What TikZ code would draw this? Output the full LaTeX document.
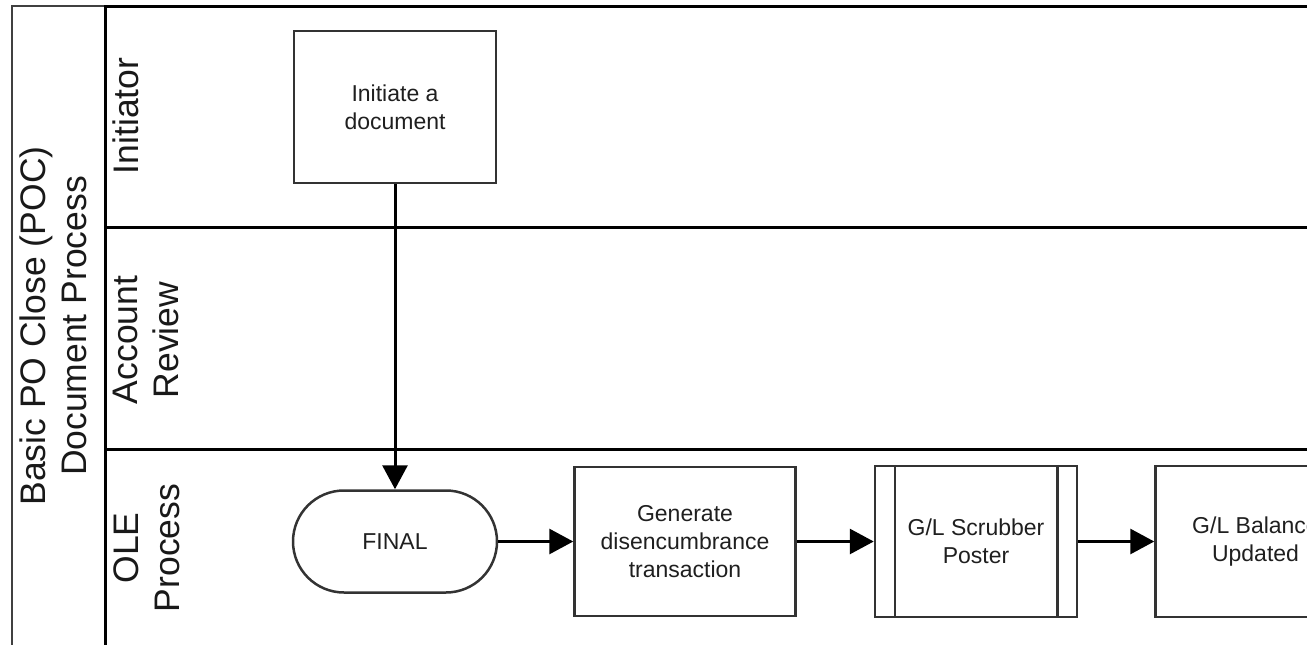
\documentclass[tikz,border=0pt]{standalone}
\usepackage{fontspec}
\setmainfont{Liberation Sans}
\usepackage{tikz}
\usetikzlibrary{arrows.meta,positioning}

\begin{document}
\begin{tikzpicture}[
      x=1pt, y=-1pt,
      task/.style={
        draw=black!80,
        line width=2.5pt,
        minimum width=202pt,
        minimum height=151pt,
        align=center,
        text=black!88,
        font=\fontsize{23}{28}\selectfont
      },
      term/.style={task, minimum width=204pt, minimum height=102pt, rounded corners=51pt},
      flow/.style={-{Triangle[length=24pt, width=25pt]}, line width=3pt},
      lane/.style={rotate=90, anchor=north, inner sep=0pt, align=center,
        text=black!90, font=\fontsize{35.5}{41}\selectfont},
      border/.style={line width=3pt}
    ]
    \useasboundingbox (0,0) rectangle (1307,645);
    \clip (0,0) rectangle (1307,645);

    % pool and lanes
    \draw[line width=2.5pt, black!75] (12,6) rectangle (105,670);
    \draw[border] (105,6) rectangle (1330,670);
    \draw[border] (105,227) -- (1330,227);
    \draw[border] (105,449) -- (1330,449);

    \node[lane] (pool) at (20,326) {Basic PO Close (POC)\\Document Process};
    \node[lane] (initlane) at (113,116) {Initiator};
    \node[lane] (acctlane) at (113,340) {Account\\Review};
    \node[lane] (olelane) at (114,548) {OLE\\Process};

    % steps
    \node[task, minimum height=152pt] (init) at (395,107) {Initiate a\\document};
    \node[term, below=305pt of init] (final) {FINAL};
    \node[task, minimum width=221pt, minimum height=149pt, right=75pt of final] (gen)
      {Generate\\disencumbrance\\transaction};
    \node[task, right=77pt of gen] (scrub) {G/L Scrubber\\Poster};
    \node[task, minimum width=200pt, right=76pt of scrub] (bal) {G/L Balance\\Updated};
    \draw[black!80, line width=2.5pt] ([xshift=21pt]scrub.north west) -- ([xshift=21pt]scrub.south west);
    \draw[black!80, line width=2.5pt] ([xshift=-21pt]scrub.north east) -- ([xshift=-21pt]scrub.south east);

    \draw[flow] (init) -- (final);
    \draw[flow] (final) -- (gen);
    \draw[flow] (gen) -- (scrub);
    \draw[flow] (scrub) -- (bal);
  \end{tikzpicture}
\end{document}
